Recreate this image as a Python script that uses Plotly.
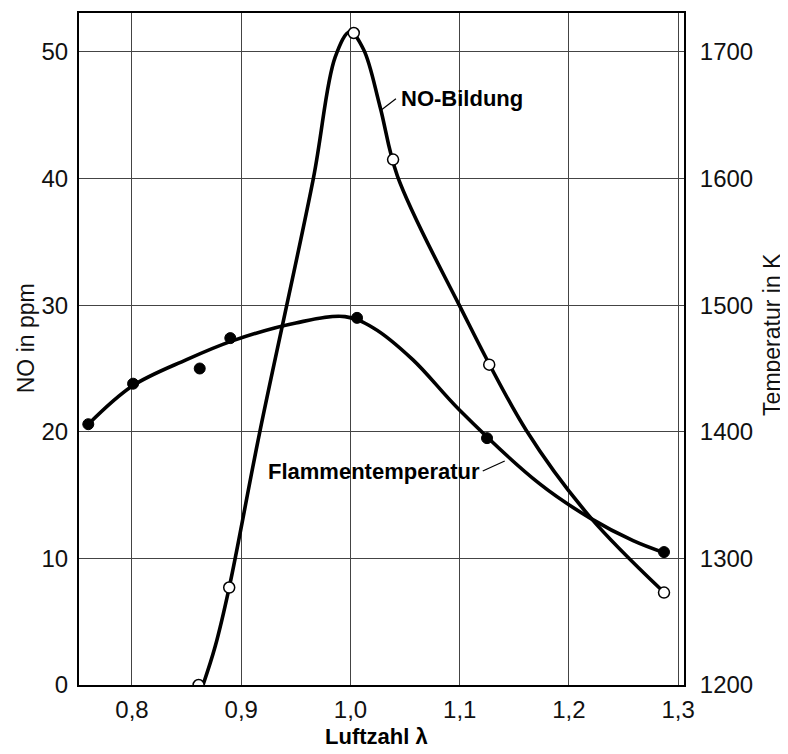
import plotly.graph_objects as go

# measured points
lam_no = [0.861, 0.889, 1.003, 1.039, 1.127, 1.287]
no_ppm = [0.0, 7.7, 51.5, 41.5, 25.3, 7.3]

lam_t = [0.760, 0.801, 0.862, 0.890, 1.006, 1.125, 1.287]
temp_K = [1406, 1438, 1450, 1474, 1490, 1395, 1305]

# fitted curves
curve_no_lam = [0.865, 0.876, 0.889, 0.917, 0.966, 0.986, 0.9995, 1.012, 1.027, 1.043,
                1.099, 1.161, 1.219, 1.286]
curve_no_val = [0.0, 3.0, 7.7, 20.0, 40.0, 49.6, 51.6, 50.2, 45.7, 40.2,
                30.1, 20.1, 13.3, 7.4]

curve_t_lam = [0.760, 0.800, 0.850, 0.8925, 0.950, 0.995, 1.021, 1.057, 1.100,
               1.173, 1.219, 1.2587, 1.287]
curve_t_val = [1406, 1436, 1457, 1472, 1486, 1491, 1482, 1457, 1417,
               1359, 1332, 1314, 1304.5]

x_ticks = [0.8, 0.9, 1.0, 1.1, 1.2, 1.3]
x_ticklabels = ["0,8", "0,9", "1,0", "1,1", "1,2", "1,3"]
y_ticks = [0, 10, 20, 30, 40, 50]
y2_ticks = [1200, 1300, 1400, 1500, 1600, 1700]

FONT = "Liberation Sans, Arial, sans-serif"

fig = go.Figure()

fig.add_trace(go.Scatter(x=curve_no_lam, y=curve_no_val, mode="lines",
                         line=dict(color="black", width=3.6, shape="spline", smoothing=1.0),
                         hoverinfo="skip", showlegend=False))
fig.add_trace(go.Scatter(x=curve_t_lam, y=curve_t_val, mode="lines", yaxis="y2",
                         line=dict(color="black", width=3.6, shape="spline", smoothing=1.0),
                         hoverinfo="skip", showlegend=False))
fig.add_trace(go.Scatter(x=lam_t, y=temp_K, mode="markers", yaxis="y2",
                         marker=dict(color="black", size=11, line=dict(color="black", width=1)),
                         showlegend=False))
fig.add_trace(go.Scatter(x=lam_no, y=no_ppm, mode="markers",
                         marker=dict(color="white", size=11, line=dict(color="black", width=1.5)),
                         showlegend=False))

fig.update_layout(
    width=780, height=746,
    margin=dict(l=71, r=104, t=5, b=69, autoexpand=False),
    plot_bgcolor="white", paper_bgcolor="white",
    font=dict(family=FONT, size=24, color="#111"),
    xaxis=dict(range=[0.7515, 1.3053], tickvals=x_ticks, ticktext=x_ticklabels,
               showgrid=True, gridcolor="#444", gridwidth=1, zeroline=False,
               showline=True, linecolor="black", linewidth=2, mirror=True,
               ticks="", ticklabelstandoff=2, tickfont=dict(size=24), automargin=False),
    yaxis=dict(range=[0, 53.08], tickvals=y_ticks,
               showgrid=True, gridcolor="#444", gridwidth=1, zeroline=False,
               showline=True, linecolor="black", linewidth=2,
               ticks="", ticklabelstandoff=4, tickfont=dict(size=24), automargin=False),
    yaxis2=dict(range=[1200, 1730.8], tickvals=y2_ticks, overlaying="y", side="right",
                showgrid=False, zeroline=False,
                showline=True, linecolor="black", linewidth=2,
                ticks="", ticklabelstandoff=9, tickfont=dict(size=24), automargin=False),
)

# leader lines
fig.add_shape(type="line", xref="x", yref="y", x0=1.0279, y0=45.4, x1=1.0416, y1=46.3,
              line=dict(color="black", width=1.2))
fig.add_shape(type="line", xref="x", yref="y", x0=1.1211, y0=16.9, x1=1.1412, y1=17.7,
              line=dict(color="black", width=1.2))

fig.add_annotation(x=1.0443, y=46.3, xref="x", yref="y", text="<b>NO-Bildung</b>",
                   showarrow=False, xanchor="left", yanchor="middle",
                   font=dict(size=22, family=FONT, color="black"))
fig.add_annotation(x=1.1211, y=16.9, xref="x", yref="y", text="<b>Flammentemperatur</b>",
                   showarrow=False, xanchor="right", yanchor="middle", xshift=-1,
                   font=dict(size=22, family=FONT, color="black"))

# axis titles
fig.add_annotation(x=-0.0876, y=0.516, xref="paper", yref="paper", text="NO in ppm",
                   textangle=-90, showarrow=False, xanchor="center", yanchor="middle",
                   font=dict(size=23, family=FONT))
fig.add_annotation(x=1.1455, y=0.521, xref="paper", yref="paper", text="Temperatur in K",
                   textangle=-90, showarrow=False, xanchor="center", yanchor="middle",
                   font=dict(size=23, family=FONT))
fig.add_annotation(x=0.491, y=-0.0759, xref="paper", yref="paper", text="<b>Luftzahl λ</b>",
                   showarrow=False, xanchor="center", yanchor="middle",
                   font=dict(size=22, family=FONT, color="black"))

fig.write_html("out.html")
